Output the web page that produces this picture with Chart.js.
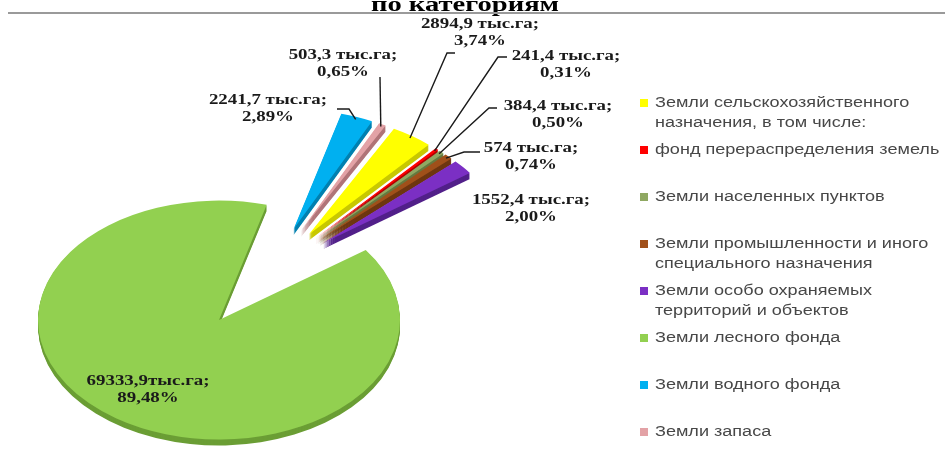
<!DOCTYPE html>
<html>
<head>
<meta charset="utf-8">
<script src="https://cdn.jsdelivr.net/npm/chart.js@4.4.0/dist/chart.umd.min.js"></script>
<style>
  html, body { margin: 0; padding: 0; background: #ffffff; }
  #wrap { width: 945px; height: 457px; position: relative; }
</style>
</head>
<body>
<div id="wrap"><canvas id="landChart"></canvas></div>
<script>
// data
const categories = [
  ["Земли сельскохозяйственного", "назначения, в том числе:"],
  ["фонд перераспределения земель"],
  ["Земли населенных пунктов"],
  ["Земли промышленности и иного", "специального назначения"],
  ["Земли особо охраняемых", "территорий и объектов"],
  ["Земли лесного фонда"],
  ["Земли водного фонда"],
  ["Земли запаса"],
];
const areaValues = [2894.9, 241.4, 384.4, 574, 1552.4, 69333.9, 2241.7, 503.3];
const areaLabels = [
  "2894,9 тыс.га;", "241,4 тыс.га;", "384,4 тыс.га;", "574 тыс.га;",
  "1552,4 тыс.га;", "69333,9тыс.га;", "2241,7 тыс.га;", "503,3 тыс.га;",
];
const percentLabels = ["3,74%", "0,31%", "0,50%", "0,74%", "2,00%", "89,48%", "2,89%", "0,65%"];
const titleText = "по категориям";

// styles
const sliceColors = ["#FFFF00", "#FF0000", "#8FA862", "#A0501A", "#7B2FC4", "#92D050", "#00B0F0", "#E3A2A6"];
const sideColors = ["#C8C800", "#B00000", "#657A40", "#6E3610", "#52208A", "#6B9E35", "#0080B0", "#B07478"];
const exploded = [true, true, true, true, true, false, true, true];

// label layout: first line centre, leader start
const labelPos = [[480, 24], [566, 56], [558, 106], [531, 148], [531, 200], [148, 381], [268, 100], [343, 55]];
const leaderFrom = [[455, 53], [507, 57], [497, 108], [480, 152], null, null, [337, 109], [380, 77]];
const leaderKnee = [-8, -9, -8, -16, 0, 0, 12, 0];

const TILT = 0.66;
const DEPTH = 6;
const GROUP_PUSH = 88;
const RADIAL_PUSH = 70;

function sliceShift(arcs, i) {
  if (!exploded[i]) return { dx: 0, dy: 0 };
  const big = arcs[exploded.indexOf(false)];
  const gap = Math.PI * 2 - (big.endAngle - big.startAngle);
  const groupMid = big.startAngle - gap / 2;
  const mid = (arcs[i].startAngle + arcs[i].endAngle) / 2;
  return {
    dx: Math.cos(groupMid) * GROUP_PUSH + Math.cos(mid) * RADIAL_PUSH,
    dy: Math.sin(groupMid) * GROUP_PUSH + Math.sin(mid) * RADIAL_PUSH,
  };
}

// point on a slice, in screen coords
function slicePoint(arcs, i, frac) {
  const arc = arcs[i];
  const s = sliceShift(arcs, i);
  const mid = (arc.startAngle + arc.endAngle) / 2;
  const px = arc.x + s.dx + Math.cos(mid) * arc.outerRadius * frac;
  const py = arc.y + s.dy + Math.sin(mid) * arc.outerRadius * frac;
  return { x: px, y: arc.y + (py - arc.y) * TILT };
}

function stretchedText(ctx, text, x, y, sx) {
  ctx.save();
  ctx.translate(x, y);
  ctx.scale(sx, 1);
  ctx.fillText(text, 0, 0);
  ctx.restore();
}

// tilted, exploded pie with a little depth
const tiltPlugin = {
  id: "tilt3d",
  beforeDatasetDraw(chart, args) {
    const ctx = chart.ctx;
    const arcs = args.meta.data;
    const cx = arcs[0].x;
    const cy = arcs[0].y;
    ctx.save();
    ctx.translate(cx, cy);
    ctx.scale(1, TILT);
    ctx.translate(-cx, -cy);

    for (let d = DEPTH; d > 0; d--) {
      arcs.forEach((arc, i) => {
        const s = sliceShift(arcs, i);
        const ox = cx + s.dx;
        const oy = cy + s.dy + d / TILT;
        ctx.beginPath();
        ctx.moveTo(ox, oy);
        ctx.arc(ox, oy, arc.outerRadius, arc.startAngle, arc.endAngle);
        ctx.closePath();
        ctx.fillStyle = sideColors[i];
        ctx.fill();
      });
    }

    arcs.forEach((arc, i) => {
      const s = sliceShift(arcs, i);
      ctx.save();
      ctx.translate(s.dx, s.dy);
      arc.draw(ctx);
      ctx.restore();
    });

    ctx.restore();
    return false;
  },
};

// value labels, leaders, legend, title
const textPlugin = {
  id: "landText",
  afterDraw(chart) {
    const ctx = chart.ctx;
    const arcs = chart.getDatasetMeta(0).data;

    // title (cut off at the top) and rule
    ctx.save();
    ctx.fillStyle = "#000000";
    ctx.font = "bold 22px 'Liberation Serif'";
    ctx.textAlign = "center";
    ctx.textBaseline = "alphabetic";
    stretchedText(ctx, titleText, 465, 11, 1.3);
    ctx.strokeStyle = "#9a9a9a";
    ctx.lineWidth = 2;
    ctx.beginPath();
    ctx.moveTo(8, 13);
    ctx.lineTo(945, 13);
    ctx.stroke();
    ctx.restore();

    // leaders
    ctx.save();
    ctx.strokeStyle = "#1a1a1a";
    ctx.lineWidth = 1.4;
    leaderFrom.forEach((from, i) => {
      if (!from) return;
      const end = slicePoint(arcs, i, 0.98);
      ctx.beginPath();
      ctx.moveTo(from[0], from[1]);
      if (leaderKnee[i]) ctx.lineTo(from[0] + leaderKnee[i], from[1]);
      ctx.lineTo(end.x, end.y);
      ctx.stroke();
    });
    ctx.restore();

    // value labels
    ctx.save();
    ctx.fillStyle = "#1a1a1a";
    ctx.font = "bold 14px 'Liberation Serif'";
    ctx.textAlign = "center";
    ctx.textBaseline = "middle";
    areaLabels.forEach((txt, i) => {
      const [x, y] = labelPos[i];
      stretchedText(ctx, txt, x, y, 1.35);
      stretchedText(ctx, percentLabels[i], x, y + 17, 1.35);
    });
    ctx.restore();

    // legend
    ctx.save();
    ctx.font = "14px 'Liberation Sans'";
    ctx.textAlign = "left";
    ctx.textBaseline = "middle";
    categories.forEach((lines, i) => {
      const y = 103 + 47 * i;
      ctx.fillStyle = sliceColors[i];
      ctx.fillRect(640, y - 4, 8, 8);
      ctx.fillStyle = "#474747";
      lines.forEach((line, k) => stretchedText(ctx, line, 655, y + k * 20, 1.29));
    });
    ctx.restore();
  },
};

function initLandChart() {
  const canvas = document.getElementById("landChart");
  return new Chart(canvas.getContext("2d"), {
    type: "pie",
    data: {
      labels: categories,
      datasets: [
        {
          data: areaValues,
          backgroundColor: sliceColors,
          borderWidth: 0,
        },
      ],
    },
    options: {
      responsive: true,
      maintainAspectRatio: false,
      animation: false,
      rotation: 28,
      radius: 181,
      layout: { padding: { left: 0, right: 507, top: 183, bottom: 0 } },
      plugins: {
        legend: { display: false },
        tooltip: { enabled: false },
      },
    },
    plugins: [tiltPlugin, textPlugin],
  });
}

initLandChart();
</script>
</body>
</html>
